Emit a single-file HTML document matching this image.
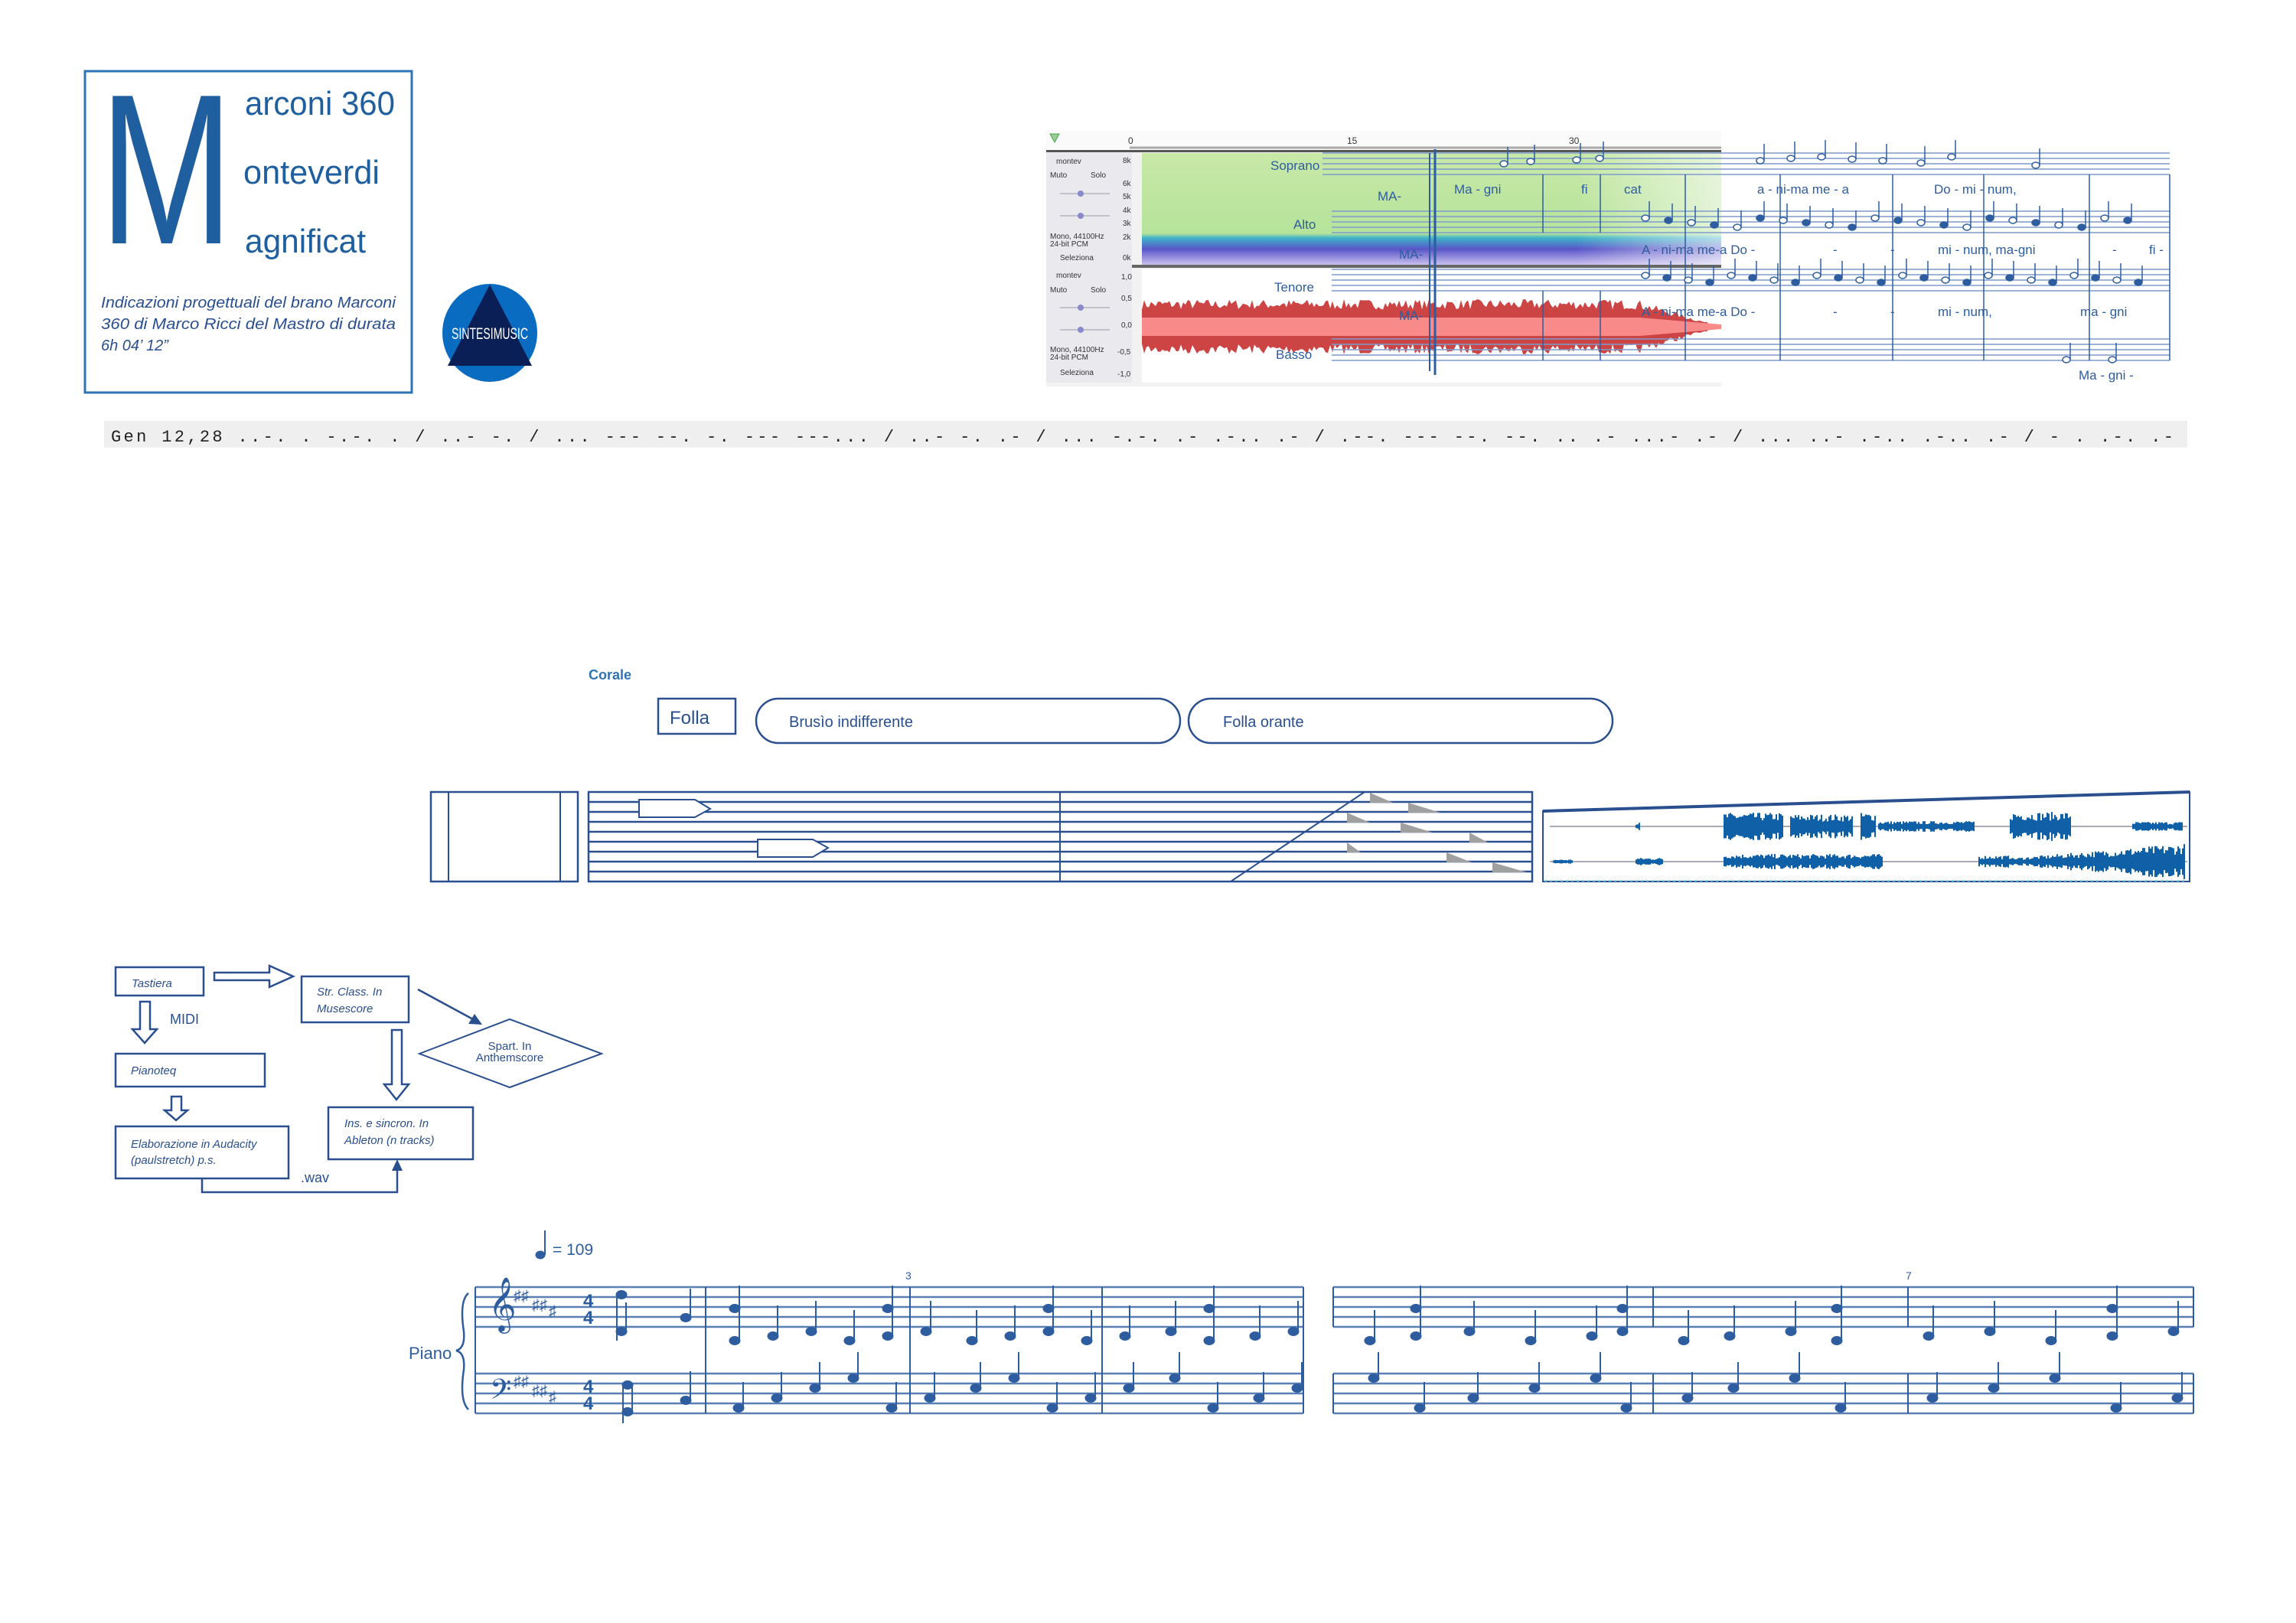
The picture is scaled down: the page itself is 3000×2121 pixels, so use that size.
<!DOCTYPE html>
<html><head><meta charset="utf-8"><style>
html,body{margin:0;padding:0;background:#fff;}
svg{display:block;}
text{font-family:"Liberation Sans",sans-serif;}
</style></head><body>
<svg id="s" width="3000" height="2121" viewBox="0 0 3000 2121" xmlns="http://www.w3.org/2000/svg">
<defs>
<linearGradient id="spec" x1="0" y1="0" x2="0" y2="1">
<stop offset="0" stop-color="#c8e8a8"/><stop offset="0.72" stop-color="#b6e39a"/>
<stop offset="0.76" stop-color="#3fb3c8"/><stop offset="0.86" stop-color="#5a55c8"/><stop offset="1" stop-color="#c8c0ee"/>
</linearGradient>
<linearGradient id="specfade" x1="0" y1="0" x2="1" y2="0">
<stop offset="0" stop-color="#fff" stop-opacity="0"/><stop offset="0.75" stop-color="#fff" stop-opacity="0"/><stop offset="1" stop-color="#fff" stop-opacity="0.6"/>
</linearGradient>
</defs>

<!-- Header box -->
<rect x="111" y="93" width="427" height="420" fill="none" stroke="#2e74b5" stroke-width="3"/>
<text x="130" y="318" font-size="280" fill="#1f5fa0" textLength="175" lengthAdjust="spacingAndGlyphs">M</text>
<text x="320" y="150" font-size="44" fill="#1f5fa0" textLength="196" lengthAdjust="spacingAndGlyphs">arconi 360</text>
<text x="318" y="240" font-size="44" fill="#1f5fa0" textLength="178" lengthAdjust="spacingAndGlyphs">onteverdi</text>
<text x="320" y="330" font-size="44" fill="#1f5fa0" textLength="158" lengthAdjust="spacingAndGlyphs">agnificat</text>
<g font-size="20" font-style="italic" fill="#2a4f8f">
<text x="132" y="402" textLength="385" lengthAdjust="spacingAndGlyphs">Indicazioni progettuali del brano Marconi</text>
<text x="132" y="430" textLength="385" lengthAdjust="spacingAndGlyphs">360 di Marco Ricci del Mastro di durata</text>
<text x="132" y="458">6h 04’ 12”</text>
</g>
<!-- Logo -->
<ellipse cx="640" cy="435" rx="62" ry="64" fill="#0a6cc0"/>
<polygon points="640,372 585,478 695,478" fill="#0a1f55"/>
<text x="640" y="443" font-size="21" fill="#fff" text-anchor="middle" textLength="100" lengthAdjust="spacingAndGlyphs">SINTESIMUSIC</text>

<!-- Gen line -->
<rect x="136" y="550" width="2722" height="35" fill="#efefef"/>
<text x="145" y="577" font-size="22" fill="#222" textLength="2695" lengthAdjust="spacing" style="font-family:'Liberation Mono',monospace">Gen 12,28 ..-. . -.-. . / ..- -. / ... --- --. -. --- ---... / ..- -. .- / ... -.-. .- .-.. .- / .--. --- --. --. .. .- ...- .- / ... ..- .-.. .-.. .- / - . .-. .-</text>

<!-- Audacity panel -->
<rect x="1367" y="171" width="882" height="334" fill="#f2f2f2"/>
<rect x="1367" y="171" width="882" height="27" fill="#fafafa"/>
<line x1="1476" y1="193" x2="2249" y2="193" stroke="#aaa" stroke-width="3"/>
<text x="1474" y="188" font-size="12" fill="#333">0</text>
<text x="1760" y="188" font-size="12" fill="#333">15</text>
<text x="2050" y="188" font-size="12" fill="#333">30</text>
<polygon points="1372,175 1384,175 1378,186" fill="#9c9" stroke="#4a4"/>
<rect x="1367" y="196" width="882" height="3" fill="#555"/>
<rect x="1492" y="200" width="757" height="146" fill="url(#spec)"/>
<rect x="1492" y="200" width="757" height="146" fill="url(#specfade)"/>
<rect x="1367" y="346" width="882" height="4" fill="#666"/>
<rect x="1492" y="352" width="757" height="148" fill="#fff"/>
<rect x="1367" y="200" width="112" height="300" fill="#e9e9ee"/>
<g font-size="10" fill="#333">
<text x="1380" y="214">montev</text><text x="1372" y="232">Muto</text><text x="1425" y="232">Solo</text>
<text x="1372" y="312">Mono, 44100Hz</text><text x="1372" y="322">24-bit PCM</text><text x="1385" y="340">Seleziona</text>
<text x="1380" y="363">montev</text><text x="1372" y="382">Muto</text><text x="1425" y="382">Solo</text>
<text x="1372" y="460">Mono, 44100Hz</text><text x="1372" y="470">24-bit PCM</text><text x="1385" y="490">Seleziona</text>
<text x="1467" y="213">8k</text><text x="1467" y="243">6k</text><text x="1467" y="260">5k</text><text x="1467" y="278">4k</text><text x="1467" y="295">3k</text><text x="1467" y="313">2k</text><text x="1467" y="340">0k</text>
<text x="1465" y="365">1,0</text><text x="1465" y="393">0,5</text><text x="1465" y="428">0,0</text><text x="1460" y="463">-0,5</text><text x="1460" y="492">-1,0</text>
</g>
<line x1="1385" y1="253" x2="1450" y2="253" stroke="#99a"/><circle cx="1412" cy="253" r="4" fill="#88c"/>
<line x1="1385" y1="282" x2="1450" y2="282" stroke="#99a"/><circle cx="1412" cy="282" r="4" fill="#88c"/>
<line x1="1385" y1="402" x2="1450" y2="402" stroke="#99a"/><circle cx="1412" cy="402" r="4" fill="#88c"/>
<line x1="1385" y1="431" x2="1450" y2="431" stroke="#99a"/><circle cx="1412" cy="431" r="4" fill="#88c"/>
<g id="redwave"></g>

<!-- Score overlay top right -->
<g id="topscore" stroke="#2e5d9f" fill="none" stroke-width="1.5"></g>
<g fill="#2e5d9f" font-size="17" style="font-family:'Liberation Serif',serif">
<text x="1660" y="222">Soprano</text><text x="1690" y="299">Alto</text><text x="1665" y="381">Tenore</text><text x="1667" y="469">Basso</text>
<text x="1800" y="262">MA-</text><text x="1828" y="338">MA-</text><text x="1828" y="418">MA-</text>
<text x="1900" y="253">Ma - gni</text><text x="2066" y="253">fi</text><text x="2122" y="253">cat</text>
<text x="2296" y="253">a  -  ni-ma  me - a</text><text x="2527" y="253">Do  -  mi  -  num,</text>
<text x="2145" y="332">A - ni-ma  me-a  Do  -</text><text x="2395" y="332">-</text><text x="2470" y="332">-</text><text x="2532" y="332">mi - num, ma-gni</text><text x="2760" y="332">-</text><text x="2808" y="332">fi -</text>
<text x="2145" y="413">A - ni-ma  me-a  Do  -</text><text x="2395" y="413">-</text><text x="2470" y="413">-</text><text x="2532" y="413">mi - num,</text><text x="2718" y="413">ma - gni</text>
<text x="2716" y="496">Ma - gni  -</text>
</g>

<!-- Corale section -->
<text x="769" y="888" font-size="18" font-weight="bold" fill="#2e74b5">Corale</text>
<rect x="860" y="913" width="101" height="46" fill="none" stroke="#2a4f8f" stroke-width="2.5"/>
<text x="875" y="946" font-size="24" fill="#2a4f8f">Folla</text>
<rect x="988" y="913" width="554" height="58" rx="29" fill="none" stroke="#2a4f8f" stroke-width="2.5"/>
<text x="1031" y="950" font-size="20" fill="#2a4f8f">Brusìo indifferente</text>
<rect x="1553" y="913" width="554" height="58" rx="29" fill="none" stroke="#2a4f8f" stroke-width="2.5"/>
<text x="1598" y="950" font-size="20" fill="#2a4f8f">Folla orante</text>

<!-- left narrow box -->
<rect x="563" y="1035" width="192" height="117" fill="none" stroke="#2a4f8f" stroke-width="2.5"/>
<line x1="586" y1="1035" x2="586" y2="1152" stroke="#2a4f8f" stroke-width="2"/>
<line x1="732" y1="1035" x2="732" y2="1152" stroke="#2a4f8f" stroke-width="2"/>
<!-- staff box -->
<g id="staffbox" stroke="#2a4f8f" stroke-width="2.5" fill="none"></g>
<!-- waveform box -->
<polygon points="2016,1060 2861,1035 2861,1152 2016,1152" fill="none" stroke="#2a4f8f" stroke-width="2"/>
<line x1="2016" y1="1060" x2="2861" y2="1035" stroke="#2a4f8f" stroke-width="4"/>
<line x1="2018" y1="1151" x2="2858" y2="1151" stroke="#7fd0e0" stroke-width="2" stroke-dasharray="3,4"/>
<line x1="2025" y1="1080" x2="2858" y2="1080" stroke="#aab" stroke-width="2"/>
<line x1="2025" y1="1126" x2="2858" y2="1126" stroke="#aab" stroke-width="2"/>
<g id="wave" stroke="#1060a8" stroke-width="2"></g>

<!-- Flowchart -->
<g stroke="#2a4f8f" stroke-width="2.5" fill="none">
<rect x="151" y="1264" width="115" height="37"/>
<rect x="394" y="1276" width="140" height="60"/>
<rect x="151" y="1377" width="195" height="43"/>
<rect x="151" y="1472" width="226" height="68" />
<rect x="429" y="1447" width="189" height="68"/>
<polygon points="548,1377 666,1332 786,1377 666,1421" stroke-width="2"/>
<polygon points="280,1271 352,1271 352,1262 383,1276 352,1290 352,1281 280,1281"/>
<polygon points="183,1309 196,1309 196,1345 205,1345 189,1363 173,1345 183,1345"/>
<polygon points="224,1433 237,1433 237,1451 245,1451 230,1464 215,1451 224,1451"/>
<polygon points="512,1346 525,1346 525,1417 534,1417 518,1437 502,1417 512,1417"/>
<polyline points="264,1540 264,1558 519,1558 519,1522"/>
<line x1="546" y1="1293" x2="618" y2="1332"/>
</g>
<polygon points="519,1515 512,1530 526,1530" fill="#2a4f8f"/>
<polygon points="630,1339 612,1338 620,1325" fill="#2a4f8f"/>
<g font-size="15" font-style="italic" fill="#2a4f8f">
<text x="172" y="1290">Tastiera</text>
<text x="414" y="1301">Str. Class. In</text><text x="414" y="1323">Musescore</text>
<text x="171" y="1404">Pianoteq</text>
<text x="171" y="1500">Elaborazione in Audacity</text><text x="171" y="1521">(paulstretch) p.s.</text>
<text x="450" y="1473">Ins. e sincron. In</text><text x="450" y="1495">Ableton (n tracks)</text>
</g>
<text x="222" y="1338" font-size="18" fill="#2a4f8f">MIDI</text>
<text x="393" y="1545" font-size="18" fill="#2a4f8f">.wav</text>
<text x="666" y="1372" font-size="15" fill="#2a4f8f" text-anchor="middle">Spart. In</text>
<text x="666" y="1387" font-size="15" fill="#2a4f8f" text-anchor="middle">Anthemscore</text>

<!-- Piano score -->
<g id="piano" stroke="#2e5d9f" fill="#2e5d9f"></g>
<g fill="#2e5d9f" style="font-family:'Liberation Serif',serif">
<text x="534" y="1776" font-size="22">Piano</text>
<text x="722" y="1640" font-size="21">= 109</text>
<text x="1183" y="1672" font-size="14">3</text>
<text x="2490" y="1672" font-size="14">7</text>
<text x="638" y="1725" font-size="62">𝄞</text>
<text x="640" y="1835" font-size="44">𝄢</text>
<text x="762" y="1708" font-size="24" font-weight="bold">4</text><text x="762" y="1730" font-size="24" font-weight="bold">4</text>
<text x="762" y="1820" font-size="24" font-weight="bold">4</text><text x="762" y="1842" font-size="24" font-weight="bold">4</text>
<text x="671" y="1700" font-size="20">♯♯</text><text x="695" y="1712" font-size="20">♯♯</text><text x="717" y="1720" font-size="20">♯</text>
<text x="671" y="1812" font-size="20">♯♯</text><text x="695" y="1824" font-size="20">♯♯</text><text x="717" y="1832" font-size="20">♯</text>
</g>
</svg>
<script>
(function(){
var NS="http://www.w3.org/2000/svg";
function el(p,t,a){var e=document.createElementNS(NS,t);for(var k in a)e.setAttribute(k,a[k]);p.appendChild(e);return e;}
var seed=7;function r(){seed=(seed*16807)%2147483647;return seed/2147483647;}
var rw=document.getElementById('redwave');
var pts=[];
for(var x=1492;x<=2249;x+=3){var a=x<2140?30:30*(2249-x)/109;a=Math.max(a,3);pts.push([x,a*(0.75+0.45*r())]);}
var top=pts.map(function(p){return p[0]+","+(427-p[1]);}).join(" ");
var bot=pts.slice().reverse().map(function(p){return p[0]+","+(427+p[1]);}).join(" ");
el(rw,'polygon',{points:top+" "+bot,fill:"#cc4444"});
el(rw,'rect',{x:1492,y:415,width:650,height:24,fill:"#f88a8a"});
el(rw,'polygon',{points:"2142,415 2249,424 2249,430 2142,439",fill:"#f88a8a"});
var ts=document.getElementById('topscore');
var staves=[200,276,352,443];
staves.forEach(function(y0,i){
 var x0=(i==0)?1728:1740;
 for(var j=0;j<5;j++){el(ts,'line',{x1:x0,y1:y0+j*7,x2:2835,y2:y0+j*7,stroke:"#7d9ccc"});}
});
el(ts,'line',{x1:1875,y1:195,x2:1875,y2:490,"stroke-width":3});
el(ts,'line',{x1:1868,y1:200,x2:1868,y2:485,"stroke-width":2});
[2016,2091,2202,2326,2473,2592,2730,2835].forEach(function(x){
 el(ts,'line',{x1:x,y1:228,x2:x,y2:304});el(ts,'line',{x1:x,y1:380,x2:x,y2:471});
});
[2202,2326,2473,2592,2730,2835].forEach(function(x){el(ts,'line',{x1:x,y1:304,x2:x,y2:380});});
function nh(x,y,fill){el(ts,'ellipse',{cx:x,cy:y,rx:5,ry:4,fill:fill?"#2e5d9f":"#fff"});el(ts,'line',{x1:x+5,y1:y,x2:x+5,y2:y-22});}
[[1965,214],[2000,211],[2060,209],[2090,207],[2300,210],[2340,207],[2380,205],[2420,208],[2460,210],[2510,213],[2550,205],[2660,216]].forEach(function(p){nh(p[0],p[1]);});
for(var i=0;i<22;i++){nh(2150+i*30,285+(i%5)*3,i%2);}
for(var i=0;i<24;i++){nh(2150+i*28,360+(i%4)*3,i%2);}
[[2700,470],[2760,470]].forEach(function(p){nh(p[0],p[1]);});
var sb=document.getElementById('staffbox');
el(sb,'rect',{x:769,y:1035,width:1233,height:117});
for(var j=1;j<9;j++){var y=1035+j*13;el(sb,'line',{x1:769,y1:y,x2:2002,y2:y});}
el(sb,'line',{x1:1385,y1:1035,x2:1385,y2:1152,"stroke-width":2});
el(sb,'line',{x1:1783,y1:1035,x2:1608,y2:1152,"stroke-width":2});
el(sb,'polygon',{points:"835,1045 908,1045 928,1057 908,1068 835,1068",fill:"#fff","stroke-width":2});
el(sb,'polygon',{points:"990,1097 1062,1097 1082,1108 1062,1120 990,1120",fill:"#fff","stroke-width":2});
[[1790,1048,1],[1840,1061,1.4],[1760,1074,1],[1830,1087,1.4],[1920,1100,0.8],[1760,1113,0.6],[1890,1126,1.1],[1950,1139,1.5]].forEach(function(t){
 var w=30*t[2];el(sb,'polygon',{points:t[0]+","+(t[1]-12)+" "+(t[0]+w)+","+(t[1]+1)+" "+t[0]+","+(t[1]+1),fill:"#a0a0a0",stroke:"none"});
});
var wv=document.getElementById('wave');
function blob(x1,x2,yc,amp,ramp){for(var x=x1;x<=x2;x+=2){var a=amp*(ramp?((x-x1)/(x2-x1))*0.8+0.2:1)*(0.4+0.6*r());el(wv,'line',{x1:x,y1:yc-a,x2:x,y2:yc+a});}}
blob(2138,2142,1080,5);blob(2253,2330,1080,18);blob(2340,2420,1080,16);blob(2432,2450,1080,18);blob(2455,2580,1080,7);blob(2627,2705,1080,19);blob(2787,2852,1080,6);
blob(2030,2055,1126,3);blob(2138,2172,1126,5);blob(2253,2460,1126,10);blob(2586,2630,1126,8);blob(2630,2855,1126,24,true);
var pg=document.getElementById('piano');
function staff(x1,x2,y){for(var j=0;j<5;j++)el(pg,'line',{x1:x1,y1:y+j*13,x2:x2,y2:y+j*13,stroke:"#5a7fb5","stroke-width":2.5});}
staff(621,1703,1682);staff(621,1703,1795);staff(1742,2866,1682);staff(1742,2866,1795);
[621,922,1189,1440,1703].forEach(function(x){el(pg,'line',{x1:x,y1:1682,x2:x,y2:1847,"stroke-width":2});});
[1742,2160,2493,2866].forEach(function(x){el(pg,'line',{x1:x,y1:1682,x2:x,y2:1734,"stroke-width":2});el(pg,'line',{x1:x,y1:1795,x2:x,y2:1847,"stroke-width":2});});
el(pg,'path',{d:"M612,1690 Q600,1700 606,1740 Q608,1762 596,1765 Q608,1768 606,1790 Q600,1830 612,1842",fill:"none","stroke-width":2.5});
function n(x,y,up,len){el(pg,'ellipse',{cx:x,cy:y,rx:7,ry:5.5});el(pg,'line',{x1:up?x+6:x-6,y1:y,x2:up?x+6:x-6,y2:up?y-(len||38):y+(len||38),"stroke-width":2});}
el(pg,'ellipse',{cx:706,cy:1640,rx:6,ry:5});el(pg,'line',{x1:712,y1:1640,x2:712,y2:1608,"stroke-width":2});
n(812,1692,false,60);n(812,1740,true);n(896,1722,true);
n(820,1810,false,50);n(820,1845,true);n(896,1830,true);
var tx=[960,1010,1060,1110,1160,1210,1270,1320,1370,1420,1470,1530,1580,1640,1690,1790,1850,1920,2000,2080,2120,2200,2260,2340,2400,2520,2600,2680,2760,2840];
tx.forEach(function(x,i){ n(x,1752-(i%3)*6,true,40); if(i%4==0)n(x,1710,true,30);});
tx.forEach(function(x,i){ n(x+5,1840-(i%4)*13,true,34);});
})();
</script>
</body></html>
